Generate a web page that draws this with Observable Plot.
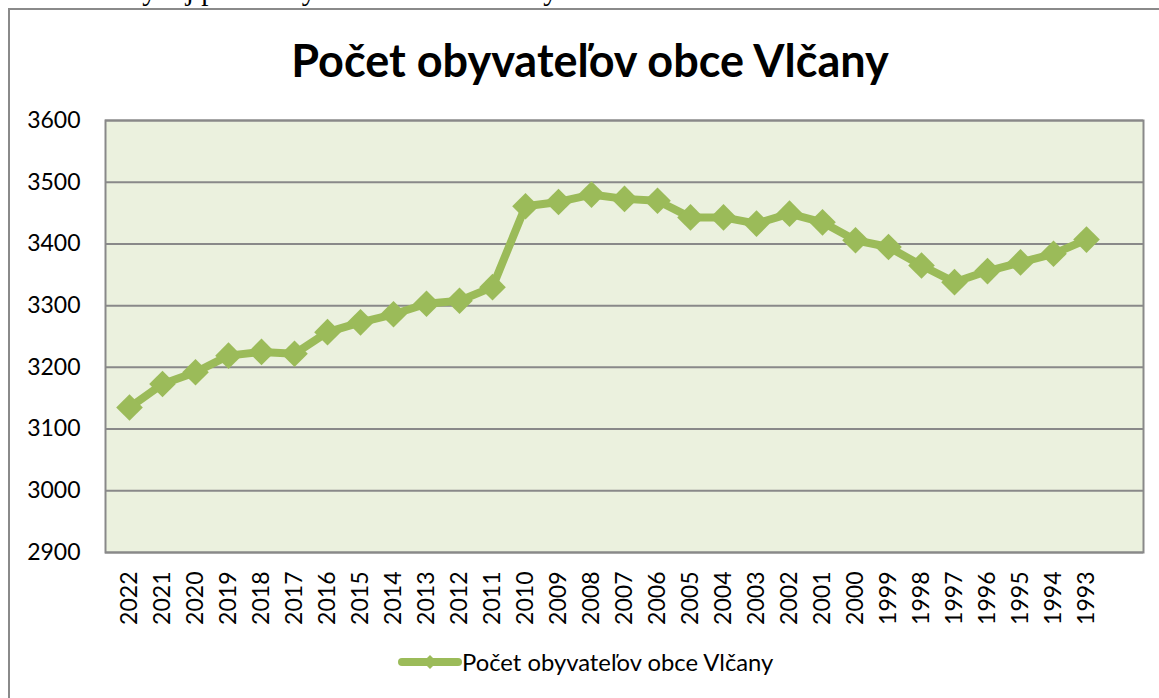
<!DOCTYPE html>
<html>
<head>
<meta charset="utf-8">
<script src="https://cdn.jsdelivr.net/npm/d3@7"></script>
<script src="https://cdn.jsdelivr.net/npm/@observablehq/plot@0.6"></script>
<style>
  html, body { margin: 0; padding: 0; background: #fff; }
  #wrap { position: relative; width: 1159px; height: 698px; overflow: hidden; background: #fff; }
  #caption { position: absolute; left: -1px; top: -26px; font-family: "Liberation Serif", "Times New Roman", serif; font-size: 29px; white-space: nowrap; color: #000; }
  #border { position: absolute; left: 8px; top: 8px; width: 1300px; height: 900px; border: 2px solid #8a8a8a; box-sizing: border-box; }
  #title { position: absolute; left: 0; width: 1180px; top: 30px; text-align: center; font-family: Lato, "Open Sans", sans-serif; font-weight: bold; font-size: 45px; color: #000; line-height: 60px; }
  #chart { position: absolute; left: 0; top: 100px; }
  #legend { position: absolute; left: 398px; top: 648px; display: flex; align-items: center; font-family: Lato, "Open Sans", sans-serif; font-size: 23.8px; color: #000; }
</style>
</head>
<body>
<div id="wrap">
  <div id="caption">Graf č. 11 Vývoj počtu obyvateľov obce Vlčany</div>
  <div id="border"></div>
  <div id="title">Počet obyvateľov obce Vlčany</div>
  <div id="chart"></div>
  <div id="legend">
    <svg width="64" height="20" style="display:block">
      <line x1="4" y1="10" x2="60" y2="10" stroke="#9BBB59" stroke-width="8" stroke-linecap="round"></line>
      <path d="M32,3 L39,10 L32,17 L25,10 Z" fill="#9BBB59"></path>
    </svg>
    <span id="legendText">Počet obyvateľov obce Vlčany</span>
  </div>
</div>
<script>
const seriesName = "Počet obyvateľov obce Vlčany";
const years = ["2022","2021","2020","2019","2018","2017","2016","2015","2014","2013","2012","2011","2010","2009","2008","2007","2006","2005","2004","2003","2002","2001","2000","1999","1998","1997","1996","1995","1994","1993"];
const population = [3135,3173,3192,3219,3225,3222,3257,3273,3286,3303,3308,3330,3461,3468,3480,3473,3470,3443,3443,3433,3449,3435,3406,3395,3365,3338,3356,3370,3384,3407];
const yTicks = [2900,3000,3100,3200,3300,3400,3500,3600];

const data = years.map((y, i) => ({year: y, value: population[i]}));

const W = 1159, H = 530;
const mL = 105, mR = 16, mT = 20, mB = 78;
// Excel-like category axis: one extra empty slot at the right end
const step = (W - mL - mR) / (years.length + 1);

const chart = Plot.plot({
  width: W,
  height: H,
  marginLeft: mL,
  marginRight: mR,
  marginTop: mT,
  marginBottom: mB,
  style: {fontFamily: "Lato, 'Open Sans', sans-serif", fontSize: "23px", color: "#000", background: "transparent"},
  x: {type: "point", domain: years, padding: 0, range: [mL + step / 2, W - mR - step * 1.5]},
  y: {domain: [2900, 3600]},
  marks: [
    Plot.frame({fill: "#EBF1DE", stroke: null}),
    Plot.ruleY(yTicks, {stroke: "#898989", strokeWidth: 2}),
    Plot.frame({stroke: "#898989", strokeWidth: 2}),
    Plot.axisY({ticks: yTicks, tickFormat: d => String(d), tickSize: 0, tickPadding: 25, label: null, fontSize: 23}),
    Plot.axisX({ticks: years, tickSize: 0, tickPadding: 19, tickRotate: -90, label: null, fontSize: 23}),
    Plot.line(data, {x: "year", y: "value", stroke: "#9BBB59", strokeWidth: 8, strokeLinejoin: "round"}),
    Plot.dot(data, {x: "year", y: "value", symbol: "diamond2", r: 12, fill: "#9BBB59", stroke: null})
  ]
});
document.getElementById("chart").appendChild(chart);
document.getElementById("legendText").textContent = seriesName;
</script>
</body>
</html>
